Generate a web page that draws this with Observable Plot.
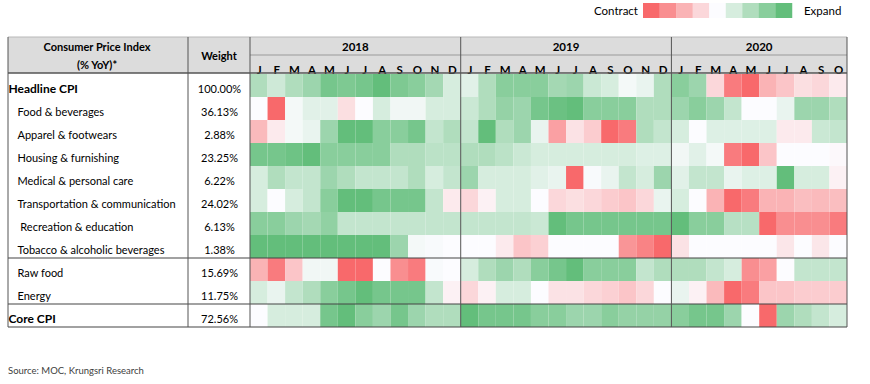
<!DOCTYPE html>
<html><head><meta charset="utf-8">
<script src="https://cdn.jsdelivr.net/npm/d3@7"></script>
<script src="https://cdn.jsdelivr.net/npm/@observablehq/plot@0.6"></script>
<style>body{margin:0;background:#fff;} svg{display:block;}</style>
</head><body><div id="chart"></div>
<script>
// ---- data ----
const years = ["2018", "2019", "2020"];
const monthLetters = ["J","F","M","A","M","J","J","A","S","O","N","D"];
const monthsPerYear = [12, 12, 10];
const rowLabels = ["Headline CPI","Food & beverages","Apparel & footwears","Housing & furnishing","Medical & personal care","Transportation & communication","Recreation & education","Tobacco & alcoholic beverages","Raw food","Energy","Core CPI"];
const weights = ["100.00%","36.13%","2.88%","23.25%","6.22%","24.02%","6.13%","1.38%","15.69%","11.75%","72.56%"];
const boldRows = ["Headline CPI","Core CPI"];
const legendLevels = [-4,-3,-2,-1,0,1,2,3,4];
const legendLeft = "Contract", legendRight = "Expand";
const sourceNote = "Source: MOC, Krungsri Research";

// shade level: -4 strong contraction (red) ... +4 strong expansion (green)
const headline  = [2,1.2,2,2.5,3.5,3.3,3.5,4,3.3,3,2.3,1,   0.7,2,3,3,3,2.3,2.5,1.3,1,0.2,0.5,2,   3,2.5,-1,-3.5,-4,-2,-1.5,-0.8,-1,-0.5];
const food      = [0,-4,0.2,0.7,0.7,-0.8,0,1,0.3,0.3,1,1,   1.3,2,2.7,2.5,3.5,3.8,4,3,3,3,2,2,   2.5,3,2.5,1.5,0,0,0.5,2.5,2.5,2];
const apparel   = [-1.8,-0.5,0.2,0.5,2.5,4,4,3,3,3.5,1.5,2,   1.5,4,2,2.5,0.5,-2.5,-0.7,-1.3,-4,-3.5,2,1.5,   1,0,0.8,0.8,0.8,0.8,-0.5,-0.5,1.3,1.5];
const housing   = [3.5,3.5,3.7,4,3,3,3,3,2,2,1.7,1.7,   2,2,1.7,1.3,1,1,1,1,1,1,0.8,0.8,   0.3,0.7,0.2,-3.5,-4,-1.5,0,0,0,-0.1];
const medical   = [1,2,1.5,1.5,2.5,2,1.5,1.5,1.5,2,1,1.5,   2.5,1,1,1,0.7,0.5,-4,0.1,0.5,1.5,1,2.5,   0.7,1.5,1.5,0.5,0.8,0.8,4,1,1,-0.3];
const transport = [1,0,1,1.5,3,4,4,3.5,3.5,3.5,1.5,-0.5,   -1,-0.3,1,1,0,-1,-0.8,-1,-1.3,-1.5,-1,0.5,   1,0,-2,-4,-3.5,-2,-2,-1.7,-1.8,-1.7];
const recreation= [3,3,2.5,2.3,2.8,1.5,1.5,1.5,1.5,1.5,1.5,1.5,   1.5,1.5,1.5,1.5,1.3,4,3.5,3.5,3.5,3.5,3.5,3.5,   4,3,3,1.8,1.8,-4,-3,-3,-3,-3.5];
const tobacco   = [4,4,4,4,4,4,4,4,2.5,0.2,0.1,0,   0,0,-0.5,-1.5,-1.2,0,0,0,0,-2.8,-3.3,-4,   -0.7,0,0,0,0,0,-0.6,0,-0.6,0];
const rawFood   = [-2,-3.5,-1.5,0.3,0.3,-4,-4,0,-3,-3.5,0.1,0,   1,2,2.5,2,3,3.5,4,3,3,3,1.5,2,   2,2,1.5,1,-3,-2.5,0,1.5,1.5,1.5];
const energy    = [1,0.5,1.5,2,3,3.5,4,3.5,3.5,3.5,1.5,-0.3,   -1,-0.3,1,1,0,-0.7,-0.7,-1,-1.2,-1.5,-1,0,   0.5,-0.3,-1.8,-4,-3.5,-1.5,-1.5,-1.3,-1.3,-1.3];
const core      = [0,1,1,1,3.5,4,3,2.5,3.5,2.5,2,2,   4,3.5,3.5,3.5,3,3,2.5,2.5,3,2.7,2.7,2.7,   3,3.5,3.5,2.5,0,-4,2.5,2,1.5,1];

// ---- build tables ----
const series = [headline, food, apparel, housing, medical, transport, recreation, tobacco, rawFood, energy, core];
const columns = years.flatMap((y, i) => monthLetters.slice(0, monthsPerYear[i]).map((m, j) => ({key: `${y}-${j}`, year: y, m})));
const cells = rowLabels.flatMap((r, i) => series[i].map((v, j) => ({row: r, key: columns[j].key, v})));
const rows = rowLabels.map((r, i) => ({row: r, label: r === "Recreation & education" ? "\u00A0" + r : r, weight: weights[i], bold: boldRows.includes(r)}));
const groupBreaks = ["Tobacco & alcoholic beverages", "Energy", "Core CPI"];

const FONT = "Lato, 'Open Sans', sans-serif";

function headerBackground(index, scales, values, dims) {
  const g = d3.create("svg:g");
  const x = scales.x;
  const right = x(columns[columns.length - 1].key) + x.bandwidth();
  g.append("rect").attr("x", 8).attr("y", 37).attr("width", right - 8).attr("height", dims.marginTop - 37 - 1).attr("fill", "#dcdcdc");
  return g.node();
}

function tableLines(index, scales, values, dims) {
  const g = d3.create("svg:g").attr("text-anchor", "start");
  const x = scales.x, y = scales.y, bw = x.bandwidth(), bh = y.bandwidth();
  const left = 8, right = x(columns[columns.length - 1].key) + bw;
  const top = 37, headBottom = dims.marginTop - 1, bottom = y(rowLabels[rowLabels.length - 1]) + bh;
  const line = (x1, y1, x2, y2, w, c) => g.append("line").attr("x1", x1).attr("y1", y1).attr("x2", x2).attr("y2", y2).attr("stroke", c).attr("stroke-width", w);
  // header borders
  line(left, top, right, top, 1, "#b8b8b8");
  const gridLeft = x(columns[0].key);
  line(gridLeft, 55, right, 55, 1, "#9a9a9a");
  line(left, headBottom, right, headBottom, 1.6, "#555");
  // group separators
  for (const r of groupBreaks) line(left, y(r) + bh, right, y(r) + bh, 1.2, "#444");
  // vertical lines
  const yearStarts = years.map(yr => columns.find(c => c.year === yr).key);
  const vx = [left, 188, gridLeft, ...yearStarts.slice(1).map(k => x(k)), right];
  for (const v of vx) line(v, top, v, bottom, 1, "#555");
  // year labels
  years.forEach(yr => {
    const cs = columns.filter(c => c.year === yr);
    const x0 = x(cs[0].key), x1 = x(cs[cs.length - 1].key) + bw;
    g.append("text").attr("x", (x0 + x1) / 2).attr("y", 47).attr("dy", "0.35em").attr("text-anchor", "middle")
      .attr("font-weight", "bold").attr("font-size", 11.5).attr("font-family", FONT).attr("fill", "#000").text(yr);
  });
  // header texts
  const ht = (tx, ty, s) => g.append("text").attr("x", tx).attr("y", ty).attr("dy", "0.35em").attr("text-anchor", "middle")
      .attr("font-weight", "bold").attr("font-size", 11).attr("font-family", FONT).attr("fill", "#000").text(s);
  ht(97, 47, "Consumer Price Index");
  ht(97, 65, "(% YoY)*");
  ht(219, 56, "Weight");
  // legend
  const sw = 16.55, lx = 643;
  legendLevels.forEach((lv, i) => {
    g.append("rect").attr("x", lx + i * sw).attr("y", 3).attr("width", sw + 0.3).attr("height", 15).attr("fill", scales.color(lv));
  });
  g.append("text").attr("x", lx - 5).attr("y", 11).attr("dy", "0.35em").attr("text-anchor", "end").attr("font-size", 11.5).attr("font-family", FONT).attr("fill", "#000").text(legendLeft);
  g.append("text").attr("x", lx + legendLevels.length * sw + 12).attr("y", 11).attr("dy", "0.35em").attr("text-anchor", "start").attr("font-size", 11.5).attr("font-family", FONT).attr("fill", "#000").text(legendRight);
  // source
  g.append("text").attr("x", 8).attr("y", 371).attr("dy", "0.35em").attr("text-anchor", "start").attr("font-size", 9.5).attr("font-family", FONT).attr("fill", "#404040").text(sourceNote);
  return g.node();
}

const chart = Plot.plot({
  width: 870,
  height: 384,
  marginLeft: 250,
  marginRight: 23,
  marginTop: 74,
  marginBottom: 57,
  x: {domain: columns.map(d => d.key), padding: 0, round: false, axis: null},
  y: {domain: rowLabels, padding: 0, round: false, axis: null},
  color: {type: "linear", domain: [-4, 0, 4], range: ["#F8696B", "#FCFCFF", "#63BE7B"], interpolate: "rgb"},
  style: {fontFamily: FONT, fontSize: "11px", color: "#000", background: "#fff", overflow: "visible"},
  marks: [
    headerBackground,
    Plot.cell(cells, {x: "key", y: "row", fill: "v", inset: 0}),
    Plot.text(columns, {x: "key", text: "m", frameAnchor: "top", dy: -9, fontWeight: "bold", fontSize: 11.5, fill: "#000"}),
    Plot.text(rows.filter(d => d.bold), {y: "row", text: "label", frameAnchor: "left", dx: -242, dy: 3, textAnchor: "start", fontWeight: "bold", fontSize: 12, fill: "#000"}),
    Plot.text(rows.filter(d => !d.bold), {y: "row", text: "label", frameAnchor: "left", dx: -233, dy: 3, textAnchor: "start", fill: "#000"}),
    Plot.text(rows, {y: "row", text: "weight", frameAnchor: "left", dx: -31, dy: 3, textAnchor: "middle", fontWeight: d => d.bold ? "bold" : "normal", fill: "#000"}),
    tableLines
  ]
});
document.getElementById("chart").appendChild(chart);
</script>
</body></html>
